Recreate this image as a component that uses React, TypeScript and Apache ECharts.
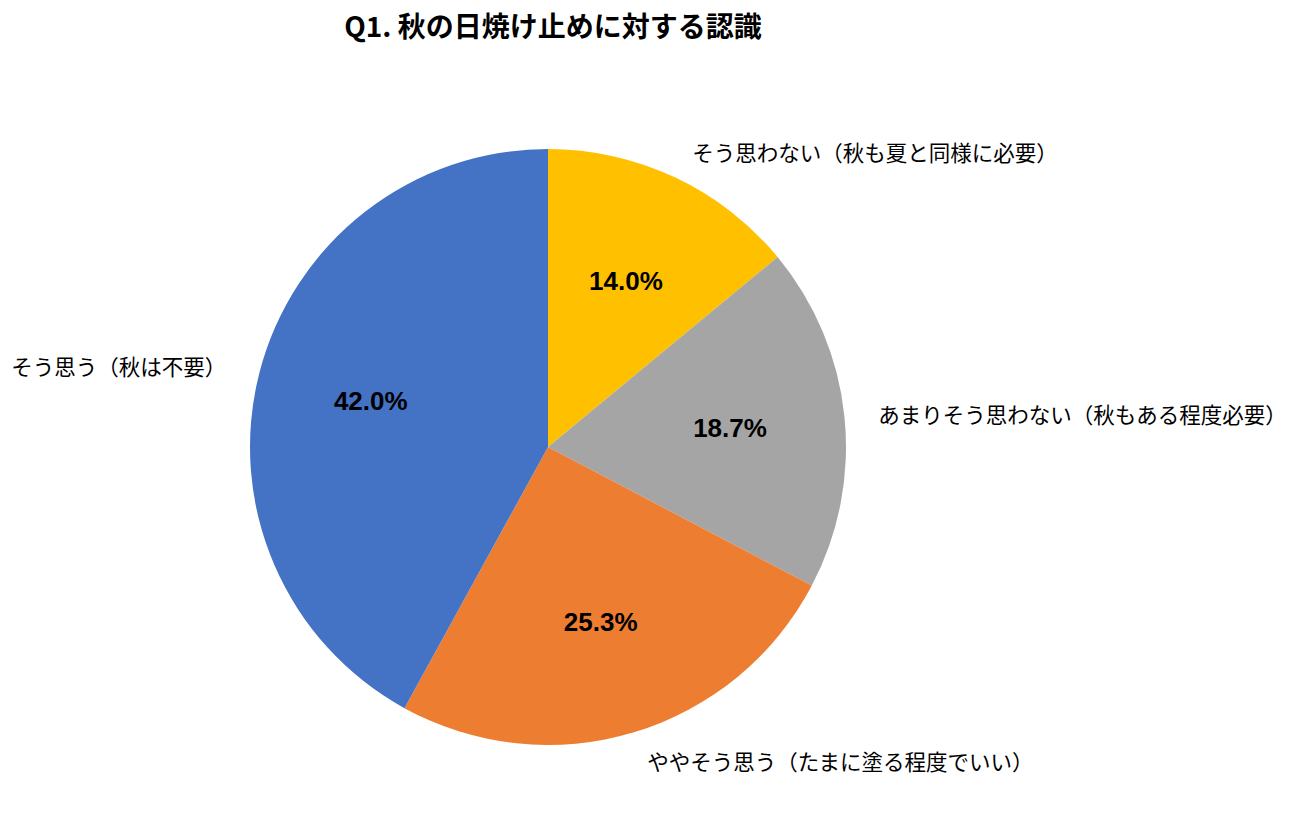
import React, { useEffect, useRef } from 'react';
import * as echarts from 'echarts';

const categories = [
  'そう思わない（秋も夏と同様に必要）',
  'あまりそう思わない（秋もある程度必要）',
  'ややそう思う（たまに塗る程度でいい）',
  'そう思う（秋は不要）',
];
const shares = [14.0, 18.7, 25.3, 42.0];
const colors = ['#FFC000', '#A5A5A5', '#ED7D31', '#4472C4'];

const FONT = '"Noto Sans CJK JP", "Noto Sans", sans-serif';
const NUM_FONT = '"Liberation Sans", Arial, sans-serif';

const App: React.FC = () => {
  const chartRef = useRef<HTMLDivElement>(null);

  useEffect(() => {
    document.body.style.margin = '0';
    if (!chartRef.current) return;
    const chart = echarts.init(chartRef.current, undefined, { renderer: 'svg' });

    const pieData = categories.map((name, i) => ({
      name,
      value: shares[i],
      itemStyle: { color: colors[i] },
    }));

    const option: echarts.EChartsOption = {
      animation: false,
      backgroundColor: '#ffffff',
      title: {
        text: 'Q1. 秋の日焼け止めに対する認識',
        left: 548,
        textAlign: 'center',
        top: 6,
        textStyle: {
          fontFamily: FONT,
          fontSize: 28,
          fontWeight: 'bold',
          color: '#000000',
        },
      },
      series: [
        // Slices with category names outside
        {
          type: 'pie',
          center: [548, 447],
          radius: 298,
          startAngle: 90,
          clockwise: true,
          avoidLabelOverlap: false,
          silent: true,
          data: pieData,
          label: {
            show: true,
            position: 'outside',
            formatter: '{b}',
            fontFamily: FONT,
            fontSize: 21.5,
            color: '#000000',
            distanceToLabelLine: 5,
          },
          labelLine: { show: false, length: 29, length2: 0 },
        },
        // Percent labels at ~0.6 radius (transparent ring)
        {
          type: 'pie',
          center: [548, 447],
          radius: [160, 200],
          startAngle: 90,
          clockwise: true,
          silent: true,
          data: categories.map((name, i) => ({
            name,
            value: shares[i],
            itemStyle: { color: 'rgba(0,0,0,0)' },
          })),
          label: {
            show: true,
            position: 'inside',
            formatter: (p: any) => `${shares[p.dataIndex].toFixed(1)}%`,
            fontFamily: NUM_FONT,
            fontSize: 26,
            fontWeight: 'bold',
            color: '#000000',
          },
          labelLine: { show: false },
        },
      ],
    };

    chart.setOption(option);
    return () => {
      chart.dispose();
    };
  }, []);

  return <div ref={chartRef} style={{ width: 1298, height: 834 }} />;
};

export default App;
